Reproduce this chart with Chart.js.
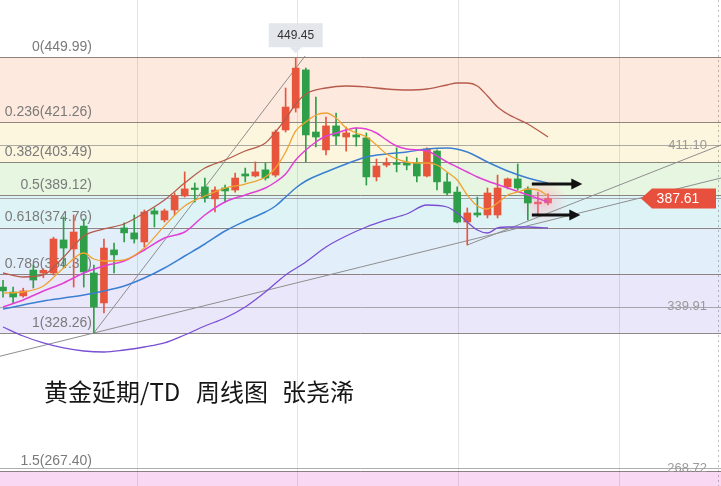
<!DOCTYPE html>
<html>
<head>
<meta charset="utf-8">
<style>
  html, body { margin: 0; padding: 0; background: #fff; }
  canvas { display: block; }
</style>
<script src="https://cdn.jsdelivr.net/npm/chart.js@4.4.1/dist/chart.umd.min.js"></script>
</head>
<body>
<canvas id="chart" width="721" height="486"></canvas>
<script>
// weekly candles, oldest first
const opens  = [348.5,346.3,344.6,356.0,354.7,354.7,369.3,365.3,375.4,354.7,
                341.5,364.9,374.6,372.4,368.4,382.1,378.1,382.5,388.7,392.2,
                392.7,387.4,392.2,391.3,398.4,397.5,400.2,397.9,417.8,427.5,
                444.3,416.9,409.0,419.6,414.7,415.6,414.3,397.1,402.3,403.2,
                403.2,403.2,397.5,408.5,394.9,390.4,377.2,381.2,380.3,380.3,
                392.7,396.2,391.8,385.2,385.6];
const highs  = [351.5,348.5,348.0,358.2,356.6,370.5,379.4,380.3,378.5,358.2,
                369.7,367.9,376.8,380.3,382.5,383.4,382.9,390.0,399.3,394.4,
                396.6,392.7,393.5,398.8,401.0,403.7,403.2,417.8,436.3,449.45,
                445.1,432.3,423.5,425.3,419.1,418.7,416.5,405.0,405.4,409.9,
                405.9,405.4,409.9,409.0,398.8,392.7,383.4,388.2,392.2,397.9,
                396.6,402.8,392.7,390.4,389.6];
const lows   = [344.1,341.5,344.0,348.1,352.6,353.8,356.9,348.5,348.5,328.26,
                337.1,354.7,368.4,367.9,366.2,375.0,377.2,380.3,388.2,386.0,
                386.0,381.6,386.0,390.4,394.9,397.1,395.7,397.1,416.9,425.7,
                403.7,410.3,406.8,411.2,408.5,410.7,393.5,395.3,401.5,399.3,
                400.2,394.9,397.1,391.3,389.1,376.8,367.06,379.4,379.0,379.0,
                391.8,391.3,378.1,380.3,384.7];
const closes = [346.8,344.1,346.8,351.6,355.9,369.7,365.7,372.8,355.2,339.7,
                365.7,362.7,372.4,369.7,381.6,380.7,382.1,388.7,391.8,391.5,
                387.8,391.3,390.9,396.6,397.5,399.3,396.6,416.9,427.9,445.1,
                415.6,414.7,419.6,415.1,416.5,414.7,397.1,401.9,403.2,402.6,
                402.3,397.5,409.4,394.9,390.0,377.2,381.2,380.3,390.0,392.2,
                396.2,392.2,385.6,386.0,387.61];

// indicator lines: [candle index, price]
const upperBand = [[0,354.71],[2,352.95],[4,353.83],[6,361.77],[8,371.03],[10,374.12],[12,376.32],
  [14,381.18],[16,386.91],[18,394.41],[20,401.03],[22,404.55],[24,408.52],[26,412.05],[27,416.90],
  [28,422.64],[29,429.26],[30,433.67],[32,436.31],[34,437.20],[36,436.75],[38,435.87],[40,435.43],
  [42,435.87],[44,437.64],[45,438.52],[46,438.52],[47,437.20],[48,432.78],[49,427.93],[50,424.84],
  [52,420.43],[54,414.70]];
const ma5 = [[0,345.89],[2,346.33],[4,348.98],[6,356.92],[8,363.53],[9,360.89],[10,360.00],[12,360.44],
  [14,365.74],[16,375.50],[18,384.26],[20,388.67],[22,392.20],[24,393.96],[26,397.06],[27,401.03],
  [28,408.08],[29,417.35],[30,421.32],[31,424.40],[32,425.29],[33,423.08],[34,418.67],[35,416.46],
  [36,414.70],[37,411.17],[38,407.20],[40,403.67],[41,403.23],[42,403.23],[43,402.35],[44,399.26],
  [45,395.73],[46,389.12],[47,384.26],[48,382.94],[49,385.59],[50,389.12],[51,390.44],[52,391.76],
  [53,391.32],[54,388.67]];
const ma10 = [[0,339.71],[2,342.80],[4,346.77],[6,350.30],[8,354.71],[10,357.80],[12,360.00],
  [14,364.85],[16,370.15],[18,372.79],[20,380.29],[22,386.03],[24,389.12],[26,392.20],[27,394.85],
  [28,398.38],[29,404.55],[30,408.96],[31,412.49],[32,415.14],[33,416.46],[34,417.79],[35,418.67],
  [36,418.23],[37,416.46],[38,413.38],[39,410.73],[40,409.41],[42,408.52],[44,403.67],[45,401.46],
  [46,399.26],[47,397.06],[48,395.29],[50,392.20],[52,389.12],[54,386.03]];
const midBand = [[0,338.83],[2,340.59],[4,342.36],[6,343.68],[8,345.01],[10,346.77],[12,348.98],
  [14,352.50],[16,356.92],[18,362.21],[20,367.50],[22,373.24],[24,377.65],[26,381.62],[27,384.26],
  [28,388.23],[29,392.20],[30,395.29],[32,399.26],[34,402.79],[36,405.88],[38,407.20],[40,408.08],
  [42,409.41],[44,409.85],[46,408.08],[48,403.67],[50,399.70],[52,396.61],[54,394.41]];
const lowerBand = [[0,330.89],[2,326.92],[4,323.83],[6,321.63],[8,320.30],[10,319.86],[12,320.74],
  [14,322.07],[16,323.83],[18,327.36],[20,331.33],[22,334.86],[24,339.71],[26,346.33],[28,353.83],
  [30,359.56],[32,366.18],[34,371.03],[36,375.00],[38,378.09],[40,380.73],[42,384.70],[44,383.82],
  [45,381.18],[46,377.21],[47,373.68],[48,372.35],[49,374.56],[50,375.00],[52,375.00],[54,374.56]];

// hand drawn lines: [candle index, price]
const swingLine  = [[9,328.26],[29.93,450.43]];
const supportLow = [[-0.3,318.0],[71.14,396.61]];
const supportUp  = [[46,367.06],[71.14,411.17]];

// fibonacci retracement
const fibLevels = [0, 0.236, 0.382, 0.5, 0.618, 0.786, 1, 1.5];
const fibPrices = [449.99, 421.26, 403.49, 389.12, 374.76, 354.31, 328.26, 267.40];
const markPrices = [411.10, 339.91, 268.72];
const lastPrice = 387.61;
const highMark = 449.45;
const arrows = [[52.4, 57.4, 394.0], [52.4, 57.2, 380.3]];
const gridX = [13.3, 29.15, 45.1, 61.0];

const RED = '#e8553d', GREEN = '#2f9e48', PINK = '#ea6478';
const bandFill = ['#fde9dd','#fdf6de','#e7f6e1','#def3f6','#e3eefb','#ebe7fb','#ffffff','#f9d8f4'];

const candleColor = closes.map((c, i) => {
  if (i >= closes.length - 2) return PINK;
  return c >= opens[i] ? RED : GREEN;
});
const pts = arr => arr.map(p => ({ x: p[0], y: p[1] }));

function lineSet(data, color, width, order) {
  return {
    type: 'line', data: pts(data), borderColor: color, borderWidth: width,
    pointRadius: 0, cubicInterpolationMode: 'monotone', fill: false, order: order
  };
}

const decor = {
  id: 'decor',
  beforeDraw(chart) {
    const { ctx, chartArea: a, scales: { x, y } } = chart;
    ctx.save();
    ctx.fillStyle = '#fff';
    ctx.fillRect(0, 0, chart.width, chart.height);
    for (let i = 0; i < fibPrices.length; i++) {
      const top = y.getPixelForValue(fibPrices[i]);
      const bot = i + 1 < fibPrices.length ? y.getPixelForValue(fibPrices[i + 1]) : a.bottom;
      ctx.fillStyle = bandFill[i];
      ctx.fillRect(a.left, top, a.width, bot - top);
    }
    ctx.strokeStyle = 'rgba(0,0,0,0.10)';
    ctx.lineWidth = 1;
    gridX.forEach(v => {
      const px = Math.round(x.getPixelForValue(v)) + 0.5;
      ctx.beginPath(); ctx.moveTo(px, a.top); ctx.lineTo(px, a.bottom); ctx.stroke();
    });
    ctx.setLineDash([2, 3]);
    ctx.strokeStyle = 'rgba(0,0,0,0.25)';
    ctx.beginPath(); ctx.moveTo(718.5, a.top); ctx.lineTo(718.5, a.bottom); ctx.stroke();
    ctx.restore();
  },
  beforeDatasetsDraw(chart) {
    const { ctx, chartArea: a, scales: { x, y } } = chart;
    ctx.save();
    ctx.lineWidth = 1;
    ctx.strokeStyle = 'rgba(115,105,100,0.8)';
    fibPrices.forEach(p => {
      const py = Math.round(y.getPixelForValue(p)) + 0.5;
      ctx.beginPath(); ctx.moveTo(a.left, py); ctx.lineTo(a.right, py); ctx.stroke();
    });
    ctx.strokeStyle = 'rgba(120,120,120,0.6)';
    markPrices.concat([lastPrice]).forEach(p => {
      const py = Math.round(y.getPixelForValue(p)) + 0.5;
      ctx.beginPath(); ctx.moveTo(a.left, py); ctx.lineTo(a.right, py); ctx.stroke();
    });

    // fib labels
    ctx.font = '14px "Liberation Sans", Arial, sans-serif';
    ctx.fillStyle = '#7a7a7a';
    ctx.textAlign = 'right';
    ctx.textBaseline = 'bottom';
    fibPrices.forEach((p, i) => {
      const py = y.getPixelForValue(p);
      ctx.fillText(fibLevels[i] + '(' + p.toFixed(2) + ')', 92, py - 3);
    });

    // right side marks
    ctx.font = '13px "Liberation Sans", Arial, sans-serif';
    ctx.fillStyle = '#9a9a9a';
    ctx.textBaseline = 'middle';
    markPrices.forEach(p => {
      ctx.fillText(p.toFixed(2), 707, y.getPixelForValue(p));
    });

    // soft highlight behind the newest candles
    const gx = x.getPixelForValue(53.5), gy = y.getPixelForValue(lastPrice - 1);
    const g = ctx.createRadialGradient(gx, gy, 2, gx, gy, 24);
    g.addColorStop(0, 'rgba(250,175,185,0.55)');
    g.addColorStop(1, 'rgba(250,175,185,0)');
    ctx.fillStyle = g;
    ctx.fillRect(gx - 26, gy - 26, 52, 52);
    ctx.restore();
  },
  afterDatasetsDraw(chart) {
    const { ctx, scales: { x, y } } = chart;
    ctx.save();

    // arrows
    ctx.strokeStyle = '#111';
    ctx.fillStyle = '#111';
    ctx.lineWidth = 3;
    arrows.forEach(([from, to, p]) => {
      const x0 = x.getPixelForValue(from), x1 = x.getPixelForValue(to);
      const py = y.getPixelForValue(p);
      ctx.beginPath(); ctx.moveTo(x0, py); ctx.lineTo(x1 - 8, py); ctx.stroke();
      ctx.beginPath();
      ctx.moveTo(x1, py); ctx.lineTo(x1 - 11, py - 5.5); ctx.lineTo(x1 - 11, py + 5.5);
      ctx.closePath(); ctx.fill();
    });

    // high marker
    const hx = x.getPixelForValue(highs.indexOf(highMark));
    const hy = y.getPixelForValue(highMark);
    ctx.fillStyle = 'rgba(226,229,233,0.95)';
    ctx.fillRect(hx - 27, hy - 35, 54, 24);
    ctx.beginPath();
    ctx.moveTo(hx - 6, hy - 11); ctx.lineTo(hx + 6, hy - 11); ctx.lineTo(hx, hy - 5);
    ctx.closePath(); ctx.fill();
    ctx.fillStyle = '#333';
    ctx.font = '12px "Liberation Sans", Arial, sans-serif';
    ctx.textAlign = 'center';
    ctx.textBaseline = 'middle';
    ctx.fillText(highMark.toFixed(2), hx, hy - 23);

    // last price tag
    const ly = y.getPixelForValue(lastPrice);
    ctx.fillStyle = '#e8503e';
    ctx.beginPath();
    ctx.moveTo(641, ly); ctx.lineTo(652, ly - 10); ctx.lineTo(716, ly - 10);
    ctx.lineTo(716, ly + 10); ctx.lineTo(652, ly + 10); ctx.closePath(); ctx.fill();
    ctx.fillStyle = '#fff';
    ctx.font = '14px "Liberation Sans", Arial, sans-serif';
    ctx.fillText(lastPrice.toFixed(2), 678, ly + 0.5);

    // title
    ctx.fillStyle = '#161616';
    ctx.font = '24px "Noto Sans CJK SC", sans-serif';
    ctx.textAlign = 'left';
    ctx.textBaseline = 'middle';
    ctx.fillText('黄金延期/TD', 44, 392);
    ctx.fillText('周线图', 196, 392);
    ctx.fillText('张尧浠', 282, 392);
    ctx.restore();
  }
};

new Chart(document.getElementById('chart'), {
  type: 'bar',
  data: {
    datasets: [
      lineSet(ma5, '#f0a232', 1.3, 1),
      lineSet(ma10, '#e040d6', 1.5, 1),
      lineSet(midBand, '#3b7fd2', 1.5, 1),
      lineSet(upperBand, '#b65a4c', 1.3, 1),
      lineSet(lowerBand, '#7a4fd2', 1.3, 1),
      {
        type: 'bar', order: 3, grouped: false, barThickness: 7, minBarLength: 1.5,
        data: opens.map((o, i) => ({ x: i, y: [o, closes[i]] })),
        backgroundColor: candleColor, borderWidth: 0
      },
      {
        type: 'bar', order: 4, grouped: false, barThickness: 1,
        data: lows.map((l, i) => ({ x: i, y: [l, highs[i]] })),
        backgroundColor: candleColor, borderWidth: 0
      },
      lineSet(swingLine, '#8e8e8e', 1, 5),
      lineSet(supportLow, '#8e8e8e', 1, 5),
      lineSet(supportUp, '#8e8e8e', 1, 5)
    ]
  },
  options: {
    responsive: false,
    animation: false,
    layout: { padding: 0 },
    plugins: { legend: { display: false }, tooltip: { enabled: false } },
    scales: {
      x: { type: 'linear', min: -0.3, max: 71.14, display: false, offset: false },
      y: { min: 260.75, max: 475.13, display: false }
    }
  },
  plugins: [decor]
});
</script>
</body>
</html>
